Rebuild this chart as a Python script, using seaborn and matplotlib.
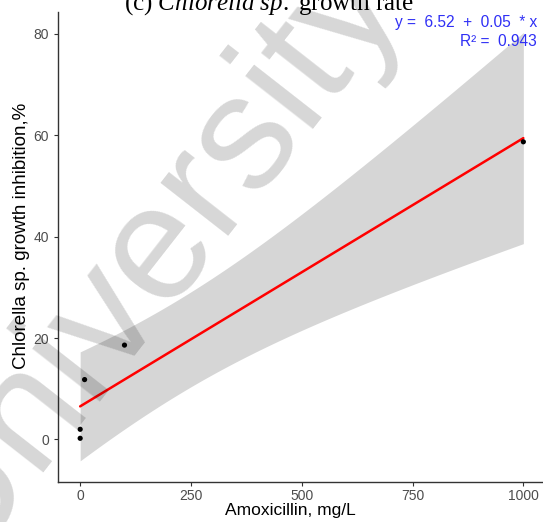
import numpy as np
import pandas as pd
import matplotlib
matplotlib.use("Agg")
import matplotlib.pyplot as plt
import seaborn as sns

# data
amox_mg_l = [0, 0, 10, 100, 1000]
inhibition_pct = [0.22, 2.0, 11.8, 18.6, 58.7]
y_ticks = [0, 20, 40, 60, 80]
x_ticks = [0, 250, 500, 750, 1000]

sns.set_theme(style="ticks")
plt.rcParams.update({
    "font.family": ["Liberation Sans", "DejaVu Sans"],
    "mathtext.fontset": "custom",
    "mathtext.it": "Liberation Serif:italic",
    "mathtext.rm": "Liberation Serif",
})

df = pd.DataFrame({"x": amox_mg_l, "y": inhibition_pct})

# linear fit + 95% confidence band (t, df=3)
slope, intercept = np.polyfit(df.x, df.y, 1)
resid = df.y - (intercept + slope * df.x)
n = len(df)
s = np.sqrt((resid ** 2).sum() / (n - 2))
sxx = ((df.x - df.x.mean()) ** 2).sum()
t_val = 3.182
xs = np.linspace(df.x.min(), df.x.max(), 200)
fit = intercept + slope * xs
se = s * np.sqrt(1 / n + (xs - df.x.mean()) ** 2 / sxx)
ss_tot = ((df.y - df.y.mean()) ** 2).sum()
r2 = 1 - (resid ** 2).sum() / ss_tot

W, H = 543, 522
fig = plt.figure(figsize=(W / 100, H / 100), dpi=100)
ax = fig.add_axes([58 / W, 1 - 482 / H, (545.5 - 58) / W, (482 - 12) / H])

ax.fill_between(xs, fit - t_val * se, fit + t_val * se, color="#999999", alpha=0.4,
                linewidth=0, zorder=1)
sns.lineplot(x=xs, y=fit, color="#ff0000", linewidth=1.8, ax=ax, zorder=2)
sns.scatterplot(data=df, x="x", y="y", color="black", s=14, edgecolor="none", ax=ax, zorder=3)

ax.set_xlim(-50, 1050)
ax.set_ylim(-8.4, 84.3)
ax.set_xticks(x_ticks)
ax.set_yticks(y_ticks)
ax.tick_params(colors="#333333", labelcolor="#4d4d4d", labelsize=10, length=3, width=0.8)
ax.tick_params(axis="x", pad=2)
for side in ["top", "right"]:
    ax.spines[side].set_visible(False)
for side in ["left", "bottom"]:
    ax.spines[side].set_color("#333333")
    ax.spines[side].set_linewidth(1.0)
ax.set_xlabel("Amoxicillin, mg/L", fontsize=12.5, color="black")
ax.set_ylabel("Chlorella sp. growth inhibition,%", fontsize=13.5, color="black")
# label centres placed in pixel terms
to_ax = ax.transAxes.inverted()
ax.xaxis.set_label_coords(*to_ax.transform(fig.transFigure.transform((290 / W, 1 - 510 / H))))
ax.yaxis.set_label_coords(*to_ax.transform(fig.transFigure.transform((22 / W, 1 - 236 / H))))
ax.xaxis.label.set_va("center")
ax.yaxis.label.set_va("center")

# equation annotation
fig.text(537 / W, 1 - 22 / H, f"y =  {intercept:.2f}  +  {slope:.2f}  * x",
         ha="right", va="center", fontsize=11.2, color="#2f2ff5")
fig.text(537 / W, 1 - 41 / H, f"R² =  {r2:.3f}",
         ha="right", va="center", fontsize=11.2, color="#2f2ff5")

# title, cut at top edge as in the source image
fig.text(269 / W, 1 - 9.5 / H, r"(c) $\mathit{Chlorella\ sp.}$ growth rate",
         ha="center", va="baseline", fontsize=18, color="black",
         family="Liberation Serif")

# watermark
fig.text(148 / W, 1 - 255 / H, "University", ha="center", va="center",
         fontsize=118, rotation=52, color="black", alpha=0.16, zorder=10)

fig.savefig("out.png", dpi=100)
